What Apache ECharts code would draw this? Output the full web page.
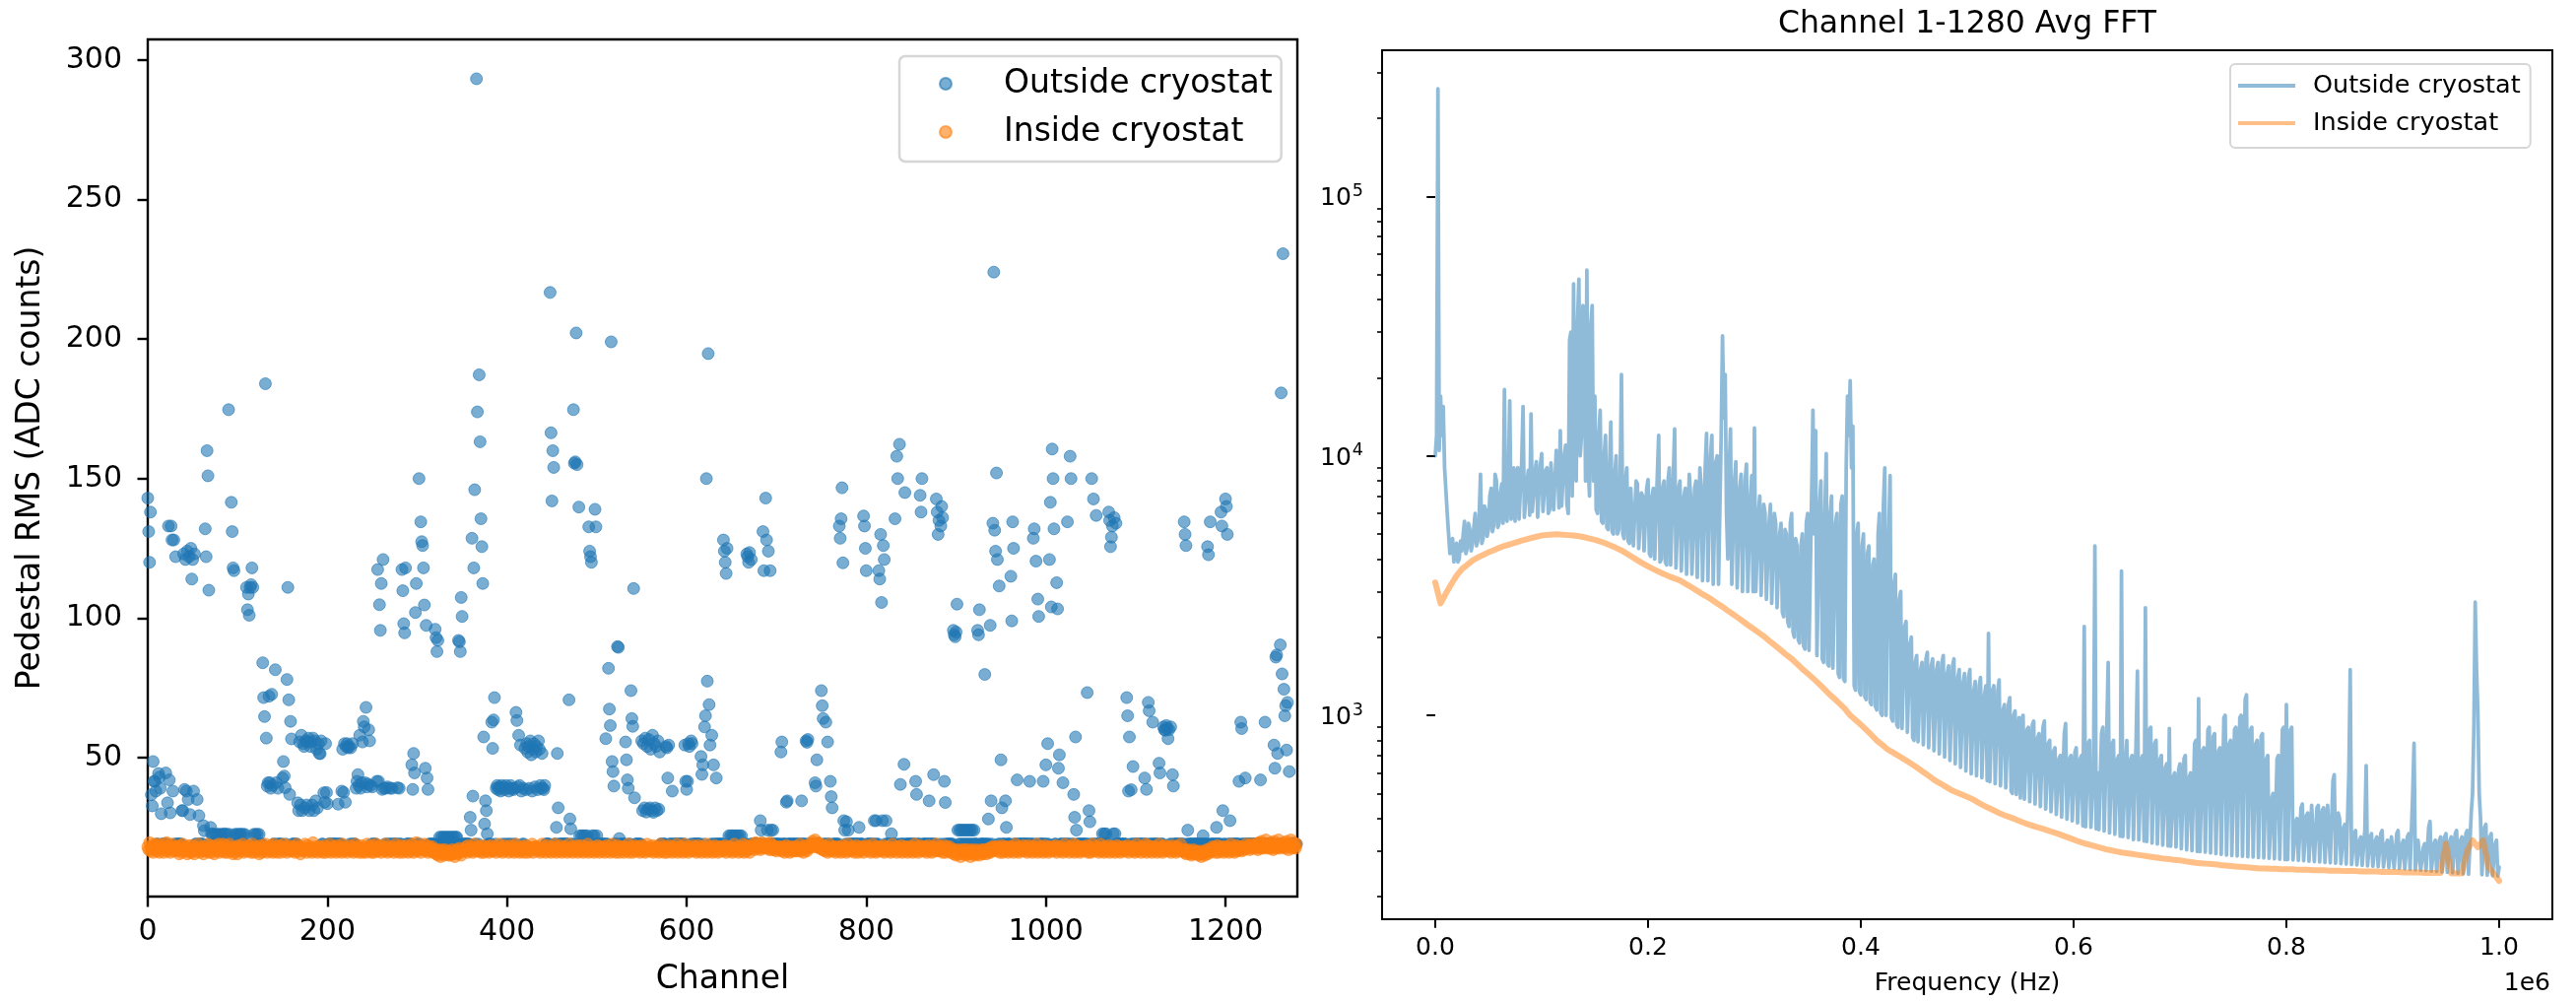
<!DOCTYPE html>
<html><head><meta charset="utf-8">
<script src="https://cdn.jsdelivr.net/npm/echarts@6/dist/echarts.min.js"></script>
<style>html,body{margin:0;padding:0;background:#fff}#c{width:2615px;height:1016px}</style>
</head><body><div id="c"></div>
<script>
// ---------- tick labels ----------
const channelTicks = [0, 200, 400, 600, 800, 1000, 1200];
const rmsTicks = [50, 100, 150, 200, 250, 300];
const freqTicks = [0, 200000, 400000, 600000, 800000, 1000000];
const fftMajorTicks = [1000, 10000, 100000];
const fftMinorTicks = [200,300,400,500,600,700,800,900,2000,3000,4000,5000,6000,7000,8000,9000,20000,30000,40000,50000,60000,70000,80000,90000,200000,300000];

// ---------- left panel: pedestal RMS per channel (index = channel) ----------
const outsideRms = [
143,131,120,138,36.7,32.7,48.6,41.5, 41.5,38,19,19,44.3,43,39,29.9,
19,19,19,19,44.5,19,33.8,133, 42,30.2,133,128,38,128,19,122,
19,19,19,19,19,19,31,31, 123,38.6,121,38,124,35,122,29.6,
125,114,121,38,123,19,19,35, 19,29.2,19,19,19,19,25.6,23.8,
132,122,160,151,110,19,25,22.7, 22.5,19,22.5,19,22.5,19,22.5,19,
22.5,19,22.5,19,22.5,19,22.7,19, 22.5,19,174.7,22.5,19,141.5,131,118,
117,22.5,19,22.5,19,22.5,19,22.5, 22.5,19,22.5,19,22.5,19,111,103,
108.6,101,111,112,118,111,22.5,19, 22.5,19,22.5,19,22.5,19,19,19,
84,71.5,64.7,184,57,39.8,41,72, 41,39,72.7,40,19,19,81.5,41,
19,39,19,19,19,19,42.7,48.6, 43.4,39.2,19,78,111,70.7,36.8,63,
56.7,19,19,19,19,19,19,33.8, 31,55.6,33,58,31,55,54,32,
56,33,55.6,57,31,54,55.6,33, 57,31,56,34.5,53,32,55,51.5,
51.4,56,19,19,37.4,34,55,37.5, 33.5,19,19,19,19,19,19,19,
19,19,19,19,33.3,19,19,19, 38,53,37.5,55,34,54,55,53.5,
54,19,53.5,19,55,19,19,19, 39,41.5,43.9,40,58,39,41,55.6,
63,61,41,68,39.5,40.5,60,56, 40,19,39.5,19,19,19,19,41.5,
117.4,41.5,104.8,95.6,112.4,38.6,121,39, 19,39,19,39.5,19,19,39,19,
39,19,19,19,19,19,39.2,19, 39,19,19,117.4,109.8,98,94.7,118,
19,19,19,19,19,19,47.4,38.6, 51.5,44.5,102,112.4,19,19,150,19,
134.5,127.4,126,118,104.7,46.2,97.4,42.7, 38.6,19,19,19,19,19,19,19,
96,93,88,92,19,21.5,19,21.5, 19,21.5,19,21.5,19,21.5,19,21.5,
19,21.5,19,21.5,19,21.5,19,21.5, 21.5,19,92,91.5,88,107.4,100.6,19,
19,19,19,19,19,19,19,28.6, 24,128.6,36.2,118,146,19,293.3,173.9,
19,187.2,163.2,135.6,125.6,112.4,57.4,26.2, 34.5,31,22.7,19,19,19,19,62.7,
53.3,63.5,71.5,19,39,40,38.5,39.5, 39,38,40,19,39.5,38.5,19,40,
39,19,38,19,40,39,19,38.5, 39,19,66.2,63.3,39.5,58,40,54.5,
38,19,39,19,53.3,38.5,55,52, 54,39,56,51,38,53,55,39.5,
52,54,38.5,56,53,40,39,51.5, 39,38.5,40,19,19,19,19,19,
216.7,166.4,142,160,154,19,19,25, 51.5,32,19,19,19,19,19,19,
19,19,19,19,19,70.7,28,24.5, 19,19,174.7,155.5,156,202.2,155,19,
139.8,22,19,22,19,22,19,22, 19,22,19,132.7,124,122,120,22,
19,22,139,132.7,22,19,19,19, 19,19,19,19,19,19,56.8,19,
19,82,67.4,61.5,199,48.6,45,39.8, 19,19,19,89.8,89.5,21,19,19,
19,19,19,19,55.6,49.2,42,39, 19,19,74,64,61.2,110.6,35.6,19,
19,19,19,19,19,19,56,31, 55,32,57,30.5,54,31.5,56.5,32,
53,31,58,30.4,55,32,54,31, 56,31.5,52,19,19,19,19,19,
19,54,53.5,42.7,54.5,19,19,19, 38,19,19,19,19,19,19,19,
19,19,19,19,19,19,54.5,41.5, 38.6,41.5,55,54,19,56,55,19,
19,19,19,19,19,19,19,19, 50.4,44,47.4,19,61,65,150,77.4,
194.8,69,54.5,19,58,19,47.4,19, 19,42.7,19,19,19,19,19,19,
19,128,124,120,116,125,19,22, 19,22,19,22,19,22,19,22,
19,22,19,22,19,22,19,19, 19,19,19,123,122,120,123.5,19,
121,19,19,19,19,19,19,19, 19,19,27.4,24,19,131,117,19,
143,128,24,124,19,117,24,19, 24,19,19,19,19,19,19,19,
19,52,55.6,19,19,19,19,34, 34.5,19,19,19,19,19,19,19,
19,19,19,19,19,19,19,19, 34.5,19,19,19,19,56,55.5,56.5,
19,19,19,19,19,19,19,41, 39.8,49.2,19,19,19,19,74,68.6,
64,19,19,62.7,19,55.6,19,19, 41.5,36,32,19,19,19,19,19,
19,19,133,128.6,135.6,146.7,119.8,27.4, 24,19,27,19,24,19,19,19,
19,19,19,19,19,19,19,19, 25,19,19,19,19,136.6,133,125,
117,19,19,19,19,19,19,19, 19,27.4,19,27.4,19,19,117,114,
130,105.6,27.4,126,121,19,27.4,19, 19,19,19,19,22.7,19,19,19,
135.6,19,158,150,19,162.3,40.4,19, 19,19,47.6,145,19,19,19,19,
19,19,19,19,19,19,19,41.5, 36.8,19,19,19,144,138,150,19,
19,19,19,19,19,19,34.5,19, 19,19,19,43.9,19,19,142.7,138,
130,135,19,133,140,136,19,41.5, 33.9,19,19,19,19,19,19,19,
19,95.6,94,93.3,95,105,24,19, 24,19,24,19,24,19,24,19,
24,19,24,19,24,19,24,19, 24,19,19,19,95.6,94,103,19,
19,19,19,19,79.8,19,19,19, 28,19,97.4,34.5,19,134,224,131.5,
124,152,121,19,111.5,19,49.2,32, 19,19,19,34.5,25,19,19,19,
19,115,99,134.5,125,19,19,19, 42,19,19,19,19,19,19,19,
19,19,19,19,19,19,41.5,19, 19,19,128.6,132,19,120.4,19,106.8,
100.6,19,19,19,19,41.5,19,19, 47.4,19,55,19,121,141.5,104,160.6,
150,132,19,19,112.7,103.3,46.2,51, 19,19,19,41,19,19,19,19,
134.5,19,19,158,150,19,19,36.8, 28.6,57.4,24,19,19,19,19,19,
19,19,19,19,19,19,73.3,19, 31,27,19,150,19,142.7,19,19,
136.8,19,19,19,19,19,19,22.7, 19,22.7,19,22.7,19,19,138,135,
125.6,129,133,22.7,136,22.7,134,19, 19,19,19,19,19,19,19,19,
19,19,71.5,65,38,57.4,19,38.5, 19,46.8,19,19,19,19,19,19,
19,19,19,19,19,19,42.7,19, 38.6,19,69.8,66.8,19,19,19,62.7,
19,19,19,19,19,19,48,44.5, 19,19,19,61,60,59.8,61.5,60.5,
56.8,60,19,61,19,43.9,39.8,19, 19,19,19,19,19,19,19,19,
19,19,134.5,130,126,19,24,19, 19,19,19,19,19,19,19,19,
19,19,19,19,19,19,19,22, 19,19,19,19,125.6,122.7,19,134.5,
19,19,19,19,19,19,25,19, 19,19,19,138,133,31,19,19,
142.7,140,130,19,19,27.4,19,19, 19,19,19,19,19,19,19,41.5,
19,62.7,60.4,19,19,19,42.7,19, 19,19,19,19,19,19,19,19,
19,19,19,19,19,19,19,42, 19,19,19,19,62.7,19,19,19,
19,19,19,19,19,19,54.5,46.2, 86,86.8,51.5,19,19,90.4,180.7,80,
230.6,74.5,65,68.6,52.7,69.8,19,45, 19,19,19,19,19,19,19,19
];

const insideRms = [
18,17,19.5,16.5,18,17.5,16,19,17,18.5,16.5,19,17.5,16,18,17,
17.5,19,16,18,17,19.5,16.5,17.5,18.5,16,17,19,18,16.5,17.5,18,
16.5,18,17,15.5,18.5,17,16,19,17.5,16.5,18,17,15.5,17.5,18.5,16,
17,16,18.5,17.5,15.5,17,18,16.5,19,17,16,17.5,18,16.5,15.5,17,
18,16.5,17,19,16,17.5,18.5,16,17,18,15.5,17,18.5,16.5,17.5,19,
16,17.5,18,16.5,19,17,16,18.5,17.5,16,17,19,16.5,18,17,15.5,
17.5,16,18,17,15.5,18.5,17,16.5,18,17,19,16,17.5,18,16.5,17,
16.5,18.5,17,16,17.5,19,16,18,17,16.5,18,17.5,15.5,17,18.5,16,
17,18,16.5,19,17.5,16,18,17,16.5,18.5,17,16,19,17.5,16.5,18,
16,17.5,18.5,17,16,18,17,19,16.5,17.5,18,16,17,18.5,17,16.5,
18,16.5,17,18,16,17.5,19,16.5,18,17,15.5,17.5,18,16.5,17,19,
17,16,18.5,17.5,16.5,18,17,16,19.5,17,16.5,18,17.5,16,18,17,
16.5,18,17,16,17.5,18.5,16,17,18,16.5,17.5,19,16,17,18,16.5,
18,17,16,18.5,17,16.5,18,17.5,16,19,17,16.5,18,17,16,17.5,
17,18.5,16.5,17,18,16,17.5,19,16.5,17,18,16,17.5,18.5,17,16,
16.5,17.5,18,16,19,17,16.5,18,17,16,18.5,17.5,16,17,19,16.5,
18,16.5,17,18.5,16,17.5,18,17,16.5,19,17,16,18,17.5,16.5,17,
17,18,16,17.5,19,16.5,17,18,16,17.5,18.5,17,16,18,17,16.5,
18.5,17,16,18,17.5,16.5,19,17,16,18,17,19.5,16.5,17.5,18,17,
16,17.5,18,17,19,16.5,17,18.5,16,17.5,18,16.5,17,18,16,17,
16,15.5,17,15,16.5,16,14.5,17,15.5,16.5,15,17,16,15.5,16.5,15,
16.5,15,16,17,15.5,16,14.5,16.5,17,15.5,16,17.5,16,15,16.5,17,
17,16.5,18,17,16,18.5,17,16.5,18,17,16,17.5,19,16.5,17,18,
16.5,18,17,16,17.5,18.5,16,17,18,16.5,17.5,18,16,17,18.5,16.5,
18,16.5,17.5,17,16,18,17,19,16.5,17,18,16,17.5,18.5,16.5,17,
17,18,16,17.5,18.5,16.5,17,18,16,17,19,16.5,17.5,18,16,17,
16.5,17.5,18,16,17,18.5,17,16,18,17.5,16.5,17,19,16,17.5,18,
18,17,16.5,18,17,16,17.5,19,16.5,17,18,16,17,18.5,17,16.5,
17,16,18,17.5,16.5,19,17,16,18,17,16.5,18.5,17,16,17.5,18,
16.5,18,17,16,17.5,19,16.5,17,18,16,17.5,18,16.5,17,18.5,16,
18,17,16.5,18.5,17,16,17.5,18,16.5,17,19,16,17.5,18,16.5,17,
17,16,18,17,16.5,18.5,17,16,18,17.5,16.5,17,18,16,17.5,18.5,
16.5,17.5,18,16,17,19,16.5,17,18,16,17.5,18.5,17,16,18,17,
17,18,16,17.5,18,16.5,17,19,16,17.5,18,17,16,17.5,18.5,16.5,
18,16.5,17,18,16,17.5,18.5,16.5,17,18,16,17,19,16.5,17.5,18,
16.5,17,18.5,16,17.5,18,16.5,17,18,16,17.5,19,16.5,17,18,16,
17,18,16,17.5,18.5,16.5,17,18,16,17.5,18,16.5,17,19,16,17.5,
18,16.5,17,18,16,17.5,19,16.5,17,18,16,17.5,18,16.5,17,18.5,
16.5,17.5,18,16,17,18.5,16.5,17,18,16,17.5,18,16.5,17,19,16,
17,18,16.5,17.5,18,16,17,18.5,16.5,17,18,16,17.5,18,16.5,17,
18,16.5,17,18.5,16,17.5,18,17,16.5,18,17,16,17.5,19,16.5,17,
17,18,16,17.5,18,16.5,17,19,16,17.5,18.5,16.5,17,18,16,17.5,
18,17.5,19,18,17,19.5,18,17.5,19,18,17,18.5,19.5,17.5,18,19,
18.5,17.5,19,18,17,19.5,18,17,18.5,17.5,17,18,16.5,17.5,18,17,
17,18,16.5,17.5,18,16,17,18.5,16.5,17.5,18,16,17,18,16.5,17.5,
18,16.5,17,18,16.5,17.5,19,16.5,17,18,16,17.5,18.5,17,16.5,18,
17.5,18,19,18.5,20,19,18,20.5,19,18,19.5,18,17.5,19,18,17,
17,18.5,16.5,17.5,18,16,17,19,16.5,17.5,18,16.5,17,18,16,17.5,
18,16.5,17,18,16,17.5,18.5,16.5,17,18,16,17.5,19,16.5,17,18,
16.5,17.5,18,16,17,18.5,17,16,18,17.5,16.5,17,18,16,17.5,18.5,
17,18,16.5,17.5,18,16,17,19,16.5,17,18,16,17.5,18,16.5,17,
18,16.5,17,18.5,16,17.5,18,17,16.5,18,17,16,17.5,19,16.5,17,
17,18,16,17.5,18,16.5,17,18.5,16,17.5,18,16.5,17,18,16,17.5,
18,16.5,17,18,16,17.5,19,16.5,17,18,16,17.5,18.5,16.5,17,18,
16.5,17.5,18,16,17,18.5,16.5,17,18,16,17.5,18,16.5,17,19,16.5,
17,18,16.5,17.5,18,16,17,18.5,16,17,18,16.5,17,18,16,17,
16.5,15.5,17,16,15,16.5,17,15.5,16,14.5,16.5,17,15.5,16,17,15,
16,17,15.5,16.5,14.5,16,17,15.5,16.5,15,16,17,15.5,16.5,15,16,
16.5,17,15.5,16,17,16.5,15.5,17,16,17.5,16,17,18,16.5,17,18,
17,18,16.5,17.5,18,16,17,18.5,16,17,18,16.5,17,18,16,17.5,
18,16.5,17,18,16,17.5,19,16.5,17,18,16,17.5,18,16.5,17,18.5,
16.5,17.5,18,16,17,18.5,16.5,17,18,16,17.5,18,16.5,17,19,16,
17,18,16.5,17.5,18,16,17,18.5,16.5,17,18,16,17.5,18,16.5,17,
18,16.5,17,18.5,16,17.5,18,17,16.5,18,17,16,17.5,19,16.5,17,
17,18,16,17.5,18,16.5,17,19,16,17.5,18.5,16.5,17,18,16,17.5,
18,16.5,17,18,16.5,17.5,18.5,16,17,18,16,17.5,19,16.5,17,18,
16.5,17.5,18,16,17,19,16.5,17,18,16,17.5,18,16.5,17,18.5,16,
17,18,16.5,17.5,18,16,17,18.5,16.5,17,18,16,17.5,18,16.5,17,
18,16.5,17,18.5,16,17.5,18,17,16.5,18,17,16,17.5,19,16.5,17,
17,18,16,17.5,18,16.5,17,19,16,17.5,18.5,16.5,17,18,16,17.5,
18,16.5,17,18,16,17.5,19,16.5,17,18,16,17.5,18.5,16.5,17,18,
16.5,17.5,18,16,17,18.5,16.5,17,18,16,17.5,18,16.5,17,19,16.5,
17,16.5,16,17,15.5,16.5,17,16,15.5,16.5,15,16,17,15.5,16,16.5,
15.5,16,15,16.5,15.5,14.5,16,15.5,16.5,15,16,17,15.5,16.5,17,16,
17,18,16.5,17.5,18,16,17,18.5,16,17,18,16.5,17,18,16,17.5,
18,16.5,17,18,16,17.5,19,16.5,17,18,16,17.5,18.5,16.5,17,18,
17,18,16.5,17.5,18,17,17.5,19,18,17.5,18.5,17,18,19,17.5,18,
18.5,17.5,19,18,17,19.5,18,17.5,20,18.5,17.5,19,18,20.5,18,17.5,
19,18,17.5,19.5,18,17,20,18.5,17.5,19,18,20.5,17.5,18.5,19,18,
18,19.5,17.5,18.5,20,18,17,19,18.5,20.5,17.5,18,19.5,18,17.5,19
];

// ---------- right panel: channel-averaged FFT ----------
const outsideFftStepHz = 1250;   // bin width of the outside-cryostat spectrum
const outsideFft = [
10000,12000,260000,10500,17000,12000,15500,9000,9000,6000,5000,4200,4300,4800,3900,4500,4600,3900,4000,4700,
4300,5000,5600,4200,4400,5500,5200,4300,4600,5300,6000,4500,4700,5800,8500,4600,4800,6400,6200,4900,
5200,7000,7500,5100,5400,8500,8000,5300,5500,7200,7800,5500,18000,5800,5600,8200,16300,5700,6000,9000,
5600,8500,9000,5700,5800,9500,15500,5800,5900,8000,8800,5900,14500,6100,6000,8700,9500,5800,5900,9200,
10200,6100,6000,8800,9000,6000,6200,9400,9500,6200,6100,10500,9800,6300,12500,6400,6500,10000,11000,6500,
6000,28000,30000,7000,46000,9000,8000,33000,48000,10000,12000,38000,35000,8000,52000,9000,7000,32000,38000,8000,
17000,6200,6000,12000,15000,5600,5500,10000,12000,5300,5200,9000,13500,5100,5000,8500,10000,5000,5200,8000,
20600,5000,4800,8000,9000,4700,4600,7500,7500,4500,4500,8000,7800,4400,4400,7200,7000,4300,4300,7500,
8100,4200,4100,7000,7500,4000,4000,8500,12000,3900,4000,7500,8000,3900,3800,8000,9000,3800,3800,8500,
12700,3700,3700,7500,8000,3600,3600,7000,7500,3500,3500,8500,7000,3500,3500,7500,8000,3400,3400,9000,
7500,3300,3300,9000,12200,3300,3300,10000,12000,3200,3200,9500,10000,3200,3200,12000,29000,14000,20600,6000,
4000,9000,12700,3200,3200,8000,9500,3100,3100,7500,8500,3000,3000,8000,9300,3000,3000,7000,8400,3000,
12800,3000,3000,6000,7000,2900,2900,6500,6000,2800,2800,5500,6500,2700,2700,6000,5500,2600,2600,5000,
5500,2500,2400,5200,5000,2300,2200,5500,6000,2100,2000,4800,4500,1950,1900,4500,5000,1850,1800,5500,
6000,1780,1750,7000,15000,5000,12500,1700,1700,6500,8000,1650,1600,6000,10200,1580,1550,6000,7000,1520,
1500,5500,6000,1450,1400,6500,7000,1380,1350,9000,17000,12000,19500,9000,13000,1300,1250,5000,5500,1230,
1200,4500,5000,1180,1150,4200,4500,1120,1100,3800,4000,1080,1050,5000,6000,1020,1000,6500,9000,1000,
1000,5000,8400,980,950,3200,3500,920,900,2800,3000,890,880,2200,2300,860,850,1900,2000,820,
800,1600,1700,790,780,1500,1600,770,760,1650,1750,750,740,1550,1650,730,720,1500,1600,710,
700,1600,1700,690,680,1450,1550,670,660,1550,1650,650,640,1400,1500,630,620,1350,1450,610,
600,1400,1500,595,590,1250,1350,585,580,1300,1400,575,570,1200,1300,560,2070,555,550,1250,
1300,545,540,1250,1370,535,530,1050,1100,525,520,1100,1170,510,500,1000,1040,495,490,980,
480,950,1000,475,470,880,900,465,460,920,950,455,450,820,850,445,440,900,950,435,
430,780,800,425,420,730,750,415,410,680,700,405,400,850,930,398,395,680,700,392,
390,720,750,385,380,680,700,375,2200,372,370,780,800,370,370,600,4500,365,600,362,
360,850,900,358,355,900,1600,352,350,780,800,348,345,680,700,342,3600,341,340,650,
800,338,335,680,700,332,330,800,1480,331,330,680,700,328,2600,326,325,880,900,322,
320,780,800,319,318,680,700,316,315,630,650,314,890,313,312,580,600,311,310,620,
650,306,305,680,700,303,302,580,600,301,300,780,800,299,1160,298,298,730,750,297,
296,880,900,295,294,830,850,293,292,730,750,291,290,980,1000,289,288,780,800,288,
287,880,900,287,286,980,1000,286,285,1150,1200,285,284,880,900,284,283,780,800,283,
282,830,850,282,281,680,700,281,280,480,500,280,279,680,700,279,278,880,900,278,
1100,278,277,880,900,277,276,390,400,276,275,440,455,275,274,410,420,274,273,450,
455,273,272,440,450,272,271,430,440,271,270,450,455,270,269,560,590,269,268,420,
400,268,267,370,380,267,266,600,1500,266,265,350,360,265,264,330,340,264,263,360,
640,263,262,340,350,262,261,330,340,261,260,350,360,260,259,320,330,259,258,340,
340,258,257,350,360,257,256,320,330,256,255,340,350,255,254,500,780,254,253,330,
330,253,252,310,320,252,251,370,390,251,250,320,330,250,249,330,340,249,248,340,
350,248,247,330,340,247,246,350,360,246,245,330,340,245,244,350,360,244,243,420,
500,900,2730,1500,1030,500,400,243,242,370,380,242,241,340,350,241,240,320,330,240,
260
];
const insideFftStepHz = 5000;    // bin width of the inside-cryostat spectrum
const insideFft = [
3250,2700,2950,3200,3450,3660,3800,3950,4060,4150,
4250,4330,4420,4500,4560,4630,4700,4760,4820,4880,
4930,4960,4980,4990,4970,4950,4930,4900,4860,4800,
4750,4680,4600,4510,4420,4320,4200,4080,3960,3850,
3750,3660,3580,3500,3430,3370,3310,3220,3130,3040,
2950,2870,2790,2700,2620,2530,2450,2370,2290,2210,
2140,2070,2000,1920,1850,1780,1710,1650,1580,1510,
1450,1390,1330,1270,1210,1160,1110,1060,1000,960,
920,880,840,800,770,740,720,700,680,660,
640,620,600,580,560,545,530,515,505,495,
485,475,462,450,440,430,420,412,405,398,
390,383,377,371,366,361,355,350,344,338,
332,326,321,317,313,309,305,302,299,296,
294,292,290,288,286,284,282,280,279,277,
276,274,272,270,269,268,267,266,264,263,
262,261,260,259,258,257,257,256,256,255,
255,255,254,254,254,253,253,253,252,252,
252,251,251,251,250,250,250,250,249,249,
249,249,248,248,248,248,247,247,247,247,
320,246,246,246,300,330,310,330,260,245,
230
];

// ---------- chart ----------
const FONT = 'DejaVu Sans';
const chart = echarts.init(document.getElementById('c'), null, {renderer: 'canvas', width: 2615, height: 1016});

const outsideRmsData = outsideRms.map((v, i) => [i, v]);
const insideRmsData = insideRms.map((v, i) => [i, v]);
const outsideFftData = outsideFft.map((v, i) => [i * outsideFftStepHz, v]);
const insideFftData = insideFft.map((v, i) => [i * insideFftStepHz, v]);

const FFT_PREFIX = 'FFT: ';

const option = {
  animation: false,
  backgroundColor: '#ffffff',
  textStyle: {fontFamily: FONT},
  grid: [
    {left: 150, top: 40, width: 1167, height: 870, show: true, borderColor: '#000', borderWidth: 2.4, backgroundColor: 'transparent'},
    {left: 1403, top: 51, width: 1188, height: 883, show: true, borderColor: '#000', borderWidth: 2, backgroundColor: 'transparent'}
  ],
  xAxis: [
    {
      type: 'value', gridIndex: 0, min: 0, max: 1280,
      axisLine: {show: false}, splitLine: {show: false},
      axisTick: {show: true, customValues: channelTicks, length: 10.5, lineStyle: {color: '#000', width: 2.4}},
      axisLabel: {customValues: channelTicks, fontSize: 30, color: '#000', margin: 21, fontFamily: FONT,
        formatter: v => String(v)},
      name: 'Channel', nameLocation: 'middle', nameGap: 68,
      nameTextStyle: {fontSize: 33, color: '#000', fontFamily: FONT}
    },
    {
      type: 'value', gridIndex: 1, min: -50000, max: 1050000,
      axisLine: {show: false}, splitLine: {show: false},
      axisTick: {show: true, customValues: freqTicks, length: 8.75, lineStyle: {color: '#000', width: 2}},
      axisLabel: {customValues: freqTicks, fontSize: 25, color: '#000', margin: 17, fontFamily: FONT,
        formatter: v => (v / 1e6).toFixed(1)},
      name: 'Frequency (Hz)', nameLocation: 'middle', nameGap: 53,
      nameTextStyle: {fontSize: 25, color: '#000', fontFamily: FONT}
    }
  ],
  yAxis: [
    {
      type: 'value', gridIndex: 0, min: 0.2, max: 307.4, position: 'left',
      axisLine: {show: false}, splitLine: {show: false},
      axisTick: {show: true, customValues: rmsTicks, length: 10.5, lineStyle: {color: '#000', width: 2.4}},
      axisLabel: {customValues: rmsTicks, fontSize: 30, color: '#000', margin: 26, fontFamily: FONT},
      name: 'Pedestal RMS (ADC counts)', nameLocation: 'middle', nameGap: 102, nameRotate: 90,
      nameTextStyle: {fontSize: 33, color: '#000', fontFamily: FONT}
    },
    {
      type: 'log', logBase: 10, gridIndex: 1, min: 163.7, max: 366000, position: 'left',
      axisLine: {show: false}, splitLine: {show: false},
      axisTick: {show: true, customValues: fftMajorTicks, length: 8.75, lineStyle: {color: '#000', width: 2}},
      axisLabel: {
        customValues: fftMajorTicks, margin: 19, color: '#000', fontFamily: FONT,
        formatter: v => '{b|10}{s|' + Math.round(Math.log10(v)) + '}',
        rich: {
          b: {fontSize: 25, fontFamily: FONT, color: '#000', verticalAlign: 'bottom', lineHeight: 30},
          s: {fontSize: 17.5, fontFamily: FONT, color: '#000', verticalAlign: 'bottom', lineHeight: 30, padding: [0, 0, 11, 1]}
        }
      }
    },
    {
      type: 'log', logBase: 10, gridIndex: 1, min: 163.7, max: 366000, position: 'left', offset: 0,
      axisLine: {show: false}, splitLine: {show: false},
      axisTick: {show: true, customValues: fftMinorTicks, length: 5, lineStyle: {color: '#000', width: 1.6}},
      axisLabel: {show: false}
    }
  ],
  legend: [
    {
      data: [{name: 'Outside cryostat', icon: 'circle'}, {name: 'Inside cryostat', icon: 'circle'}],
      orient: 'vertical', left: 913, top: 57, padding: [9, 9, 11, 40],
      itemWidth: 12, itemHeight: 12, itemGap: 11, selectedMode: false,
      backgroundColor: 'rgba(255,255,255,0.8)', borderColor: 'rgba(204,204,204,0.8)', borderWidth: 2.5, borderRadius: 6,
      formatter: n => '{t|' + n + '}',
      textStyle: {fontFamily: FONT, fontSize: 33, color: '#000', lineHeight: 38,
        rich: {t: {fontFamily: FONT, fontSize: 33, color: '#000', lineHeight: 38, padding: [0, 0, 0, 48]}}}
    },
    {
      data: [{name: FFT_PREFIX + 'Outside cryostat', icon: 'rect'}, {name: FFT_PREFIX + 'Inside cryostat', icon: 'rect'}],
      orient: 'vertical', left: 2264, top: 65, padding: [7, 10, 10, 8],
      itemWidth: 58, itemHeight: 4, itemGap: 8, selectedMode: false,
      backgroundColor: 'rgba(255,255,255,0.8)', borderColor: 'rgba(204,204,204,0.8)', borderWidth: 2, borderRadius: 5,
      formatter: n => '{t|' + n.replace(FFT_PREFIX, '') + '}',
      textStyle: {fontFamily: FONT, fontSize: 25.5, color: '#000', lineHeight: 30,
        rich: {t: {fontFamily: FONT, fontSize: 25.5, color: '#000', lineHeight: 30, padding: [0, 0, 0, 13]}}}
    }
  ],
  graphic: [
    {type: 'text', x: 1997, y: 25, silent: true,
      style: {text: 'Channel 1-1280 Avg FFT', font: '31.5px "DejaVu Sans"', fill: '#000', textAlign: 'center', textVerticalAlign: 'middle'}},
    {type: 'text', x: 2589, y: 998, silent: true,
      style: {text: '1e6', font: '25px "DejaVu Sans"', fill: '#000', textAlign: 'right', textVerticalAlign: 'middle'}}
  ],
  series: [
    {
      type: 'scatter', name: 'Outside cryostat', xAxisIndex: 0, yAxisIndex: 0,
      data: outsideRmsData, symbol: 'circle', symbolSize: 12, silent: true,
      itemStyle: {color: '#1f77b4', opacity: 0.6, borderColor: '#1f77b4', borderWidth: 1}
    },
    {
      type: 'scatter', name: 'Inside cryostat', xAxisIndex: 0, yAxisIndex: 0,
      data: insideRmsData, symbol: 'circle', symbolSize: 12, silent: true,
      itemStyle: {color: '#ff7f0e', opacity: 0.6, borderColor: '#ff7f0e', borderWidth: 1}
    },
    {
      type: 'line', name: FFT_PREFIX + 'Outside cryostat', xAxisIndex: 1, yAxisIndex: 1,
      data: outsideFftData, symbol: 'none', showSymbol: false, silent: true,
      itemStyle: {color: '#1f77b4', opacity: 0.5},
      lineStyle: {color: '#1f77b4', opacity: 0.5, width: 3.75, cap: 'round', join: 'round'}
    },
    {
      type: 'line', name: FFT_PREFIX + 'Inside cryostat', xAxisIndex: 1, yAxisIndex: 1,
      data: insideFftData, symbol: 'none', showSymbol: false, silent: true,
      itemStyle: {color: '#ff7f0e', opacity: 0.5},
      lineStyle: {color: '#ff7f0e', opacity: 0.5, width: 6, cap: 'round', join: 'round'}
    }
  ]
};
chart.setOption(option);
</script>
</body></html>
